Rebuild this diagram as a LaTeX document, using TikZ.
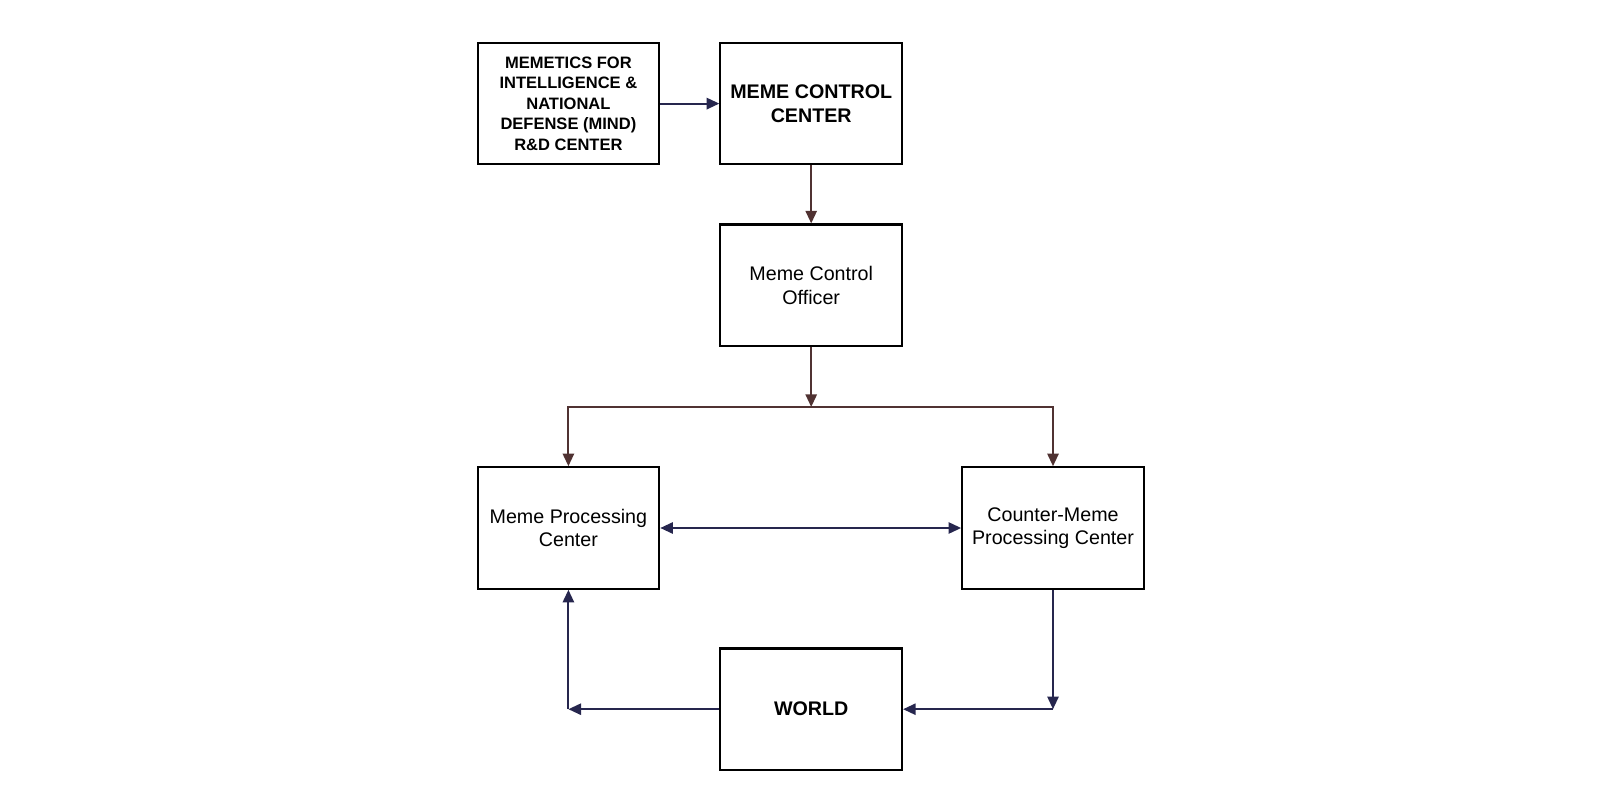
\documentclass[tikz,border=0pt]{standalone}
\usepackage{fontspec}
\setmainfont{Liberation Sans}
\usetikzlibrary{positioning, arrows.meta, calc}

\definecolor{linknavy}{RGB}{38,38,78}
\definecolor{linkbrown}{RGB}{80,50,50}

\begin{document}
\begin{tikzpicture}[
    > = {Triangle[length=3.6pt, width=3.2pt]},
    line width = 0.6pt,
    unit/.style = {draw, black, rectangle, inner sep=0.5pt, minimum width=1.816cm,
        minimum height=1.214cm, align=center, font=\fontsize{5.6}{6.7}\selectfont},
    bigunit/.style = {unit, font=\fontsize{5.6}{6.7}\selectfont\bfseries},
    link/.style = {->, linknavy}
]

\useasboundingbox (0,0) rectangle (16,-8);

% 1. Place the boxes
\node[unit, font=\fontsize{4.7}{5.8}\selectfont\bfseries] (mind) at (5.684, -1.036)
    {MEMETICS FOR\\INTELLIGENCE \&\\NATIONAL\\DEFENSE (MIND)\\R\&D CENTER};
\node[bigunit] (mcc) at (8.112, -1.036) {MEME CONTROL\\CENTER};
\node[unit] (officer) at (8.112, -2.852) {Meme Control\\Officer};
\node[unit] (mpc) at (5.684, -5.28) {Meme Processing\\Center};
\node[unit] (cmpc) at (10.53, -5.28) {Counter-Meme\\Processing Center};
\node[bigunit] (world) at (8.112, -7.092) {WORLD};

% 2. Corner points for the links
\coordinate (split) at (8.112, -4.07);
\coordinate (downright) at (cmpc.south |- world.east);
\coordinate (downleft) at (mpc.south |- world.west);

% 3. Links down the chain
\draw[link] (mind) -- (mcc);
\draw[link, linkbrown] (mcc) -- (officer);
\draw[link, linkbrown] (officer) -- (split);

\draw[link, linkbrown] (split) -| (mpc.north);
\draw[link, linkbrown] (split) -| (cmpc.north);

\draw[<->, linknavy] (mpc) -- (cmpc);

% 4. The loop through the world
\draw[link] (cmpc.south) -- (downright);
\draw[link] (downright) -- (world.east);

\draw[link] (world.west) -- (downleft);
\draw[link] (downleft) -- (mpc.south);

\end{tikzpicture}
\end{document}
